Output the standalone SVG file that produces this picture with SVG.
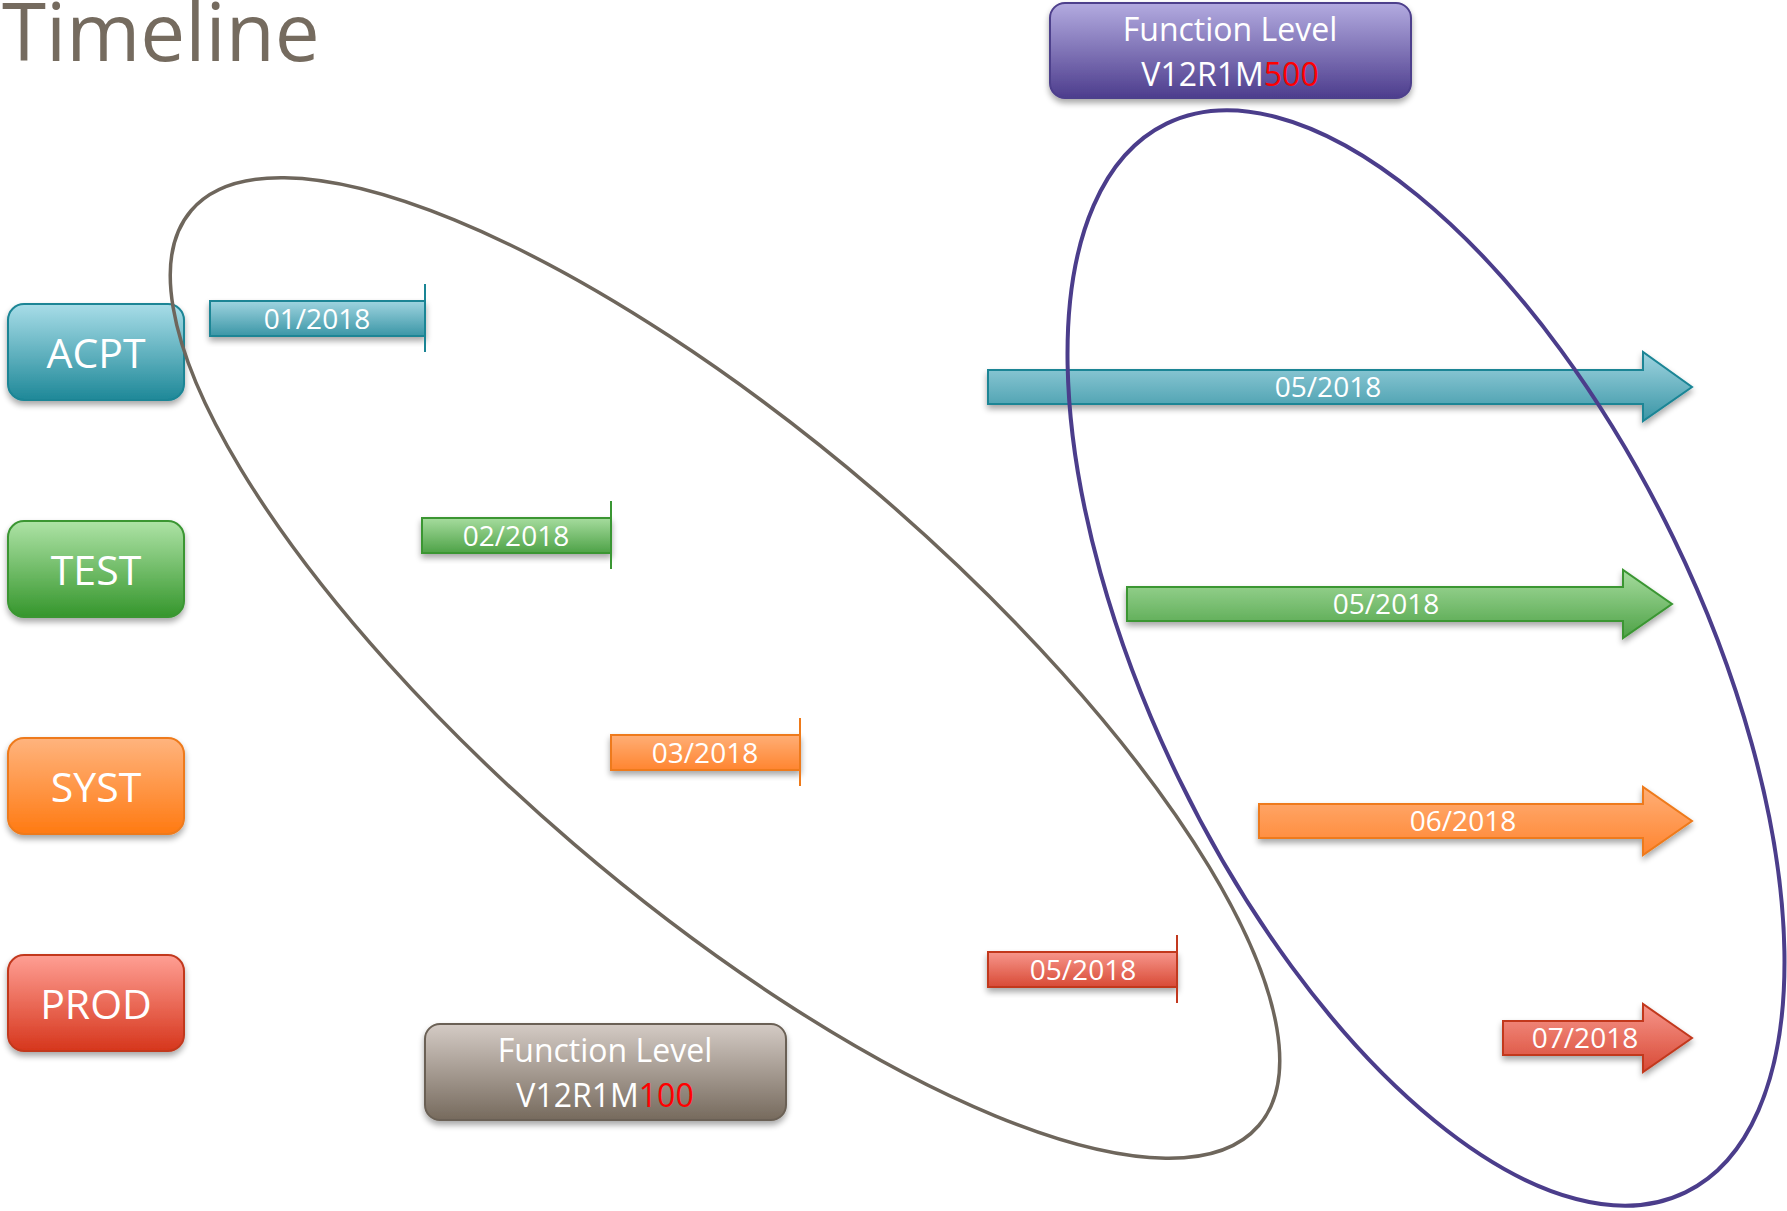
<svg xmlns="http://www.w3.org/2000/svg" width="1787" height="1211" viewBox="0 0 1787 1211">
<defs>
<linearGradient id="gT" x1="0" y1="0" x2="0" y2="1"><stop offset="0" stop-color="#A8DDE8"/><stop offset="1" stop-color="#1E8898"/></linearGradient>
<linearGradient id="gTb" x1="0" y1="0" x2="0" y2="1"><stop offset="0" stop-color="#9FD4E0"/><stop offset="1" stop-color="#3B96A6"/></linearGradient>
<linearGradient id="gG" x1="0" y1="0" x2="0" y2="1"><stop offset="0" stop-color="#AEE3A6"/><stop offset="1" stop-color="#35962C"/></linearGradient>
<linearGradient id="gGb" x1="0" y1="0" x2="0" y2="1"><stop offset="0" stop-color="#A6DC9E"/><stop offset="1" stop-color="#4EA247"/></linearGradient>
<linearGradient id="gO" x1="0" y1="0" x2="0" y2="1"><stop offset="0" stop-color="#FFB47E"/><stop offset="1" stop-color="#FF7A12"/></linearGradient>
<linearGradient id="gOb" x1="0" y1="0" x2="0" y2="1"><stop offset="0" stop-color="#FFAE76"/><stop offset="1" stop-color="#FF8530"/></linearGradient>
<linearGradient id="gR" x1="0" y1="0" x2="0" y2="1"><stop offset="0" stop-color="#FF9F94"/><stop offset="1" stop-color="#D6361C"/></linearGradient>
<linearGradient id="gRb" x1="0" y1="0" x2="0" y2="1"><stop offset="0" stop-color="#F7968B"/><stop offset="1" stop-color="#D84A36"/></linearGradient>
<linearGradient id="gP" x1="0" y1="0" x2="0" y2="1"><stop offset="0" stop-color="#B3ABE0"/><stop offset="1" stop-color="#4D3D8D"/></linearGradient>
<linearGradient id="gB" x1="0" y1="0" x2="0" y2="1"><stop offset="0" stop-color="#D4CBC5"/><stop offset="1" stop-color="#766A5D"/></linearGradient>
<filter id="sh" x="-10%" y="-20%" width="120%" height="150%">
<feGaussianBlur in="SourceAlpha" stdDeviation="3"/>
<feOffset dx="0" dy="4" result="b"/>
<feComponentTransfer><feFuncA type="linear" slope="0.35"/></feComponentTransfer>
<feMerge><feMergeNode/><feMergeNode in="SourceGraphic"/></feMerge>
</filter>
</defs>
<style>
text{font-family:"Open Sans","Noto Sans","Liberation Sans",sans-serif;fill:#FFFFFF;text-anchor:middle}
.lbl{font-size:41px}
.bar{font-size:28px}
.fl{font-size:32px}
.red{fill:#FF0000}
.ell{fill:none}
</style>
<text x="2" y="61" style="font-size:80px;fill:#756B5F;text-anchor:start">Timeline</text>

<g id="acpt">
<rect x="8" y="304" width="176" height="96" rx="16" fill="url(#gT)" stroke="#1A8595" stroke-width="2" filter="url(#sh)"/>
<text class="lbl" x="96" y="368">ACPT</text>
</g>
<g id="test">
<rect x="8" y="521" width="176" height="96" rx="16" fill="url(#gG)" stroke="#3A9633" stroke-width="2" filter="url(#sh)"/>
<text class="lbl" x="96" y="585">TEST</text>
</g>
<g id="syst">
<rect x="8" y="738" width="176" height="96" rx="16" fill="url(#gO)" stroke="#EE7A1A" stroke-width="2" filter="url(#sh)"/>
<text class="lbl" x="96" y="802">SYST</text>
</g>
<g id="prod">
<rect x="8" y="955" width="176" height="96" rx="16" fill="url(#gR)" stroke="#C2391F" stroke-width="2" filter="url(#sh)"/>
<text class="lbl" x="96" y="1019">PROD</text>
</g>

<g id="bar-acpt-0118">
<rect x="210" y="301" width="215" height="35" fill="url(#gTb)" stroke="#1A8595" stroke-width="2" filter="url(#sh)"/>
<line x1="425" y1="284" x2="425" y2="352" stroke="#1A8595" stroke-width="2"/>
<text class="bar" x="317" y="329">01/2018</text>
</g>
<g id="bar-test-0218">
<rect x="422" y="518" width="189" height="35" fill="url(#gGb)" stroke="#3A9633" stroke-width="2" filter="url(#sh)"/>
<line x1="611" y1="501" x2="611" y2="569" stroke="#3A9633" stroke-width="2"/>
<text class="bar" x="516" y="546">02/2018</text>
</g>
<g id="bar-syst-0318">
<rect x="611" y="735" width="189" height="35" fill="url(#gOb)" stroke="#EE7A1A" stroke-width="2" filter="url(#sh)"/>
<line x1="800" y1="718" x2="800" y2="786" stroke="#EE7A1A" stroke-width="2"/>
<text class="bar" x="705" y="763">03/2018</text>
</g>
<g id="bar-prod-0518">
<rect x="988" y="952" width="189" height="35" fill="url(#gRb)" stroke="#C2391F" stroke-width="2" filter="url(#sh)"/>
<line x1="1177" y1="935" x2="1177" y2="1003" stroke="#C2391F" stroke-width="2"/>
<text class="bar" x="1083" y="980">05/2018</text>
</g>

<g id="arrow-acpt-0518">
<polygon points="988,370 1643,370 1643,352 1692,387 1643,421 1643,404 988,404" fill="url(#gTb)" stroke="#1A8595" stroke-width="2" filter="url(#sh)"/>
<text class="bar" x="1328" y="397">05/2018</text>
</g>
<g id="arrow-test-0518">
<polygon points="1127,587 1623,587 1623,570 1672,604 1623,638 1623,621 1127,621" fill="url(#gGb)" stroke="#3A9633" stroke-width="2" filter="url(#sh)"/>
<text class="bar" x="1386" y="614">05/2018</text>
</g>
<g id="arrow-syst-0618">
<polygon points="1259,804 1643,804 1643,787 1692,821 1643,855 1643,838 1259,838" fill="url(#gOb)" stroke="#EE7A1A" stroke-width="2" filter="url(#sh)"/>
<text class="bar" x="1463" y="831">06/2018</text>
</g>
<g id="arrow-prod-0718">
<polygon points="1503,1021 1643,1021 1643,1004 1692,1038 1643,1072 1643,1055 1503,1055" fill="url(#gRb)" stroke="#C2391F" stroke-width="2" filter="url(#sh)"/>
<text class="bar" x="1585" y="1048">07/2018</text>
</g>

<g id="fl-500">
<rect x="1050" y="3" width="361" height="95" rx="15" fill="url(#gP)" stroke="#4E3F8C" stroke-width="2" filter="url(#sh)"/>
<text class="fl" x="1230" y="41">Function Level</text>
<text class="fl" x="1230" y="86">V12R1M<tspan class="red">500</tspan></text>
</g>
<g id="fl-100">
<rect x="425" y="1024" width="361" height="96" rx="15" fill="url(#gB)" stroke="#6B6155" stroke-width="2" filter="url(#sh)"/>
<text class="fl" x="605" y="1062">Function Level</text>
<text class="fl" x="605" y="1107">V12R1M<tspan class="red">100</tspan></text>
</g>

<g id="connectors">
<ellipse class="ell" cx="725" cy="668" rx="703" ry="232" transform="rotate(40.6 725 668)" stroke="#6E665C" stroke-width="3.5"/>
<ellipse class="ell" cx="1426" cy="658" rx="594" ry="275" transform="rotate(64.1 1426 658)" stroke="#4B3D8B" stroke-width="4"/>
</g>
</svg>
